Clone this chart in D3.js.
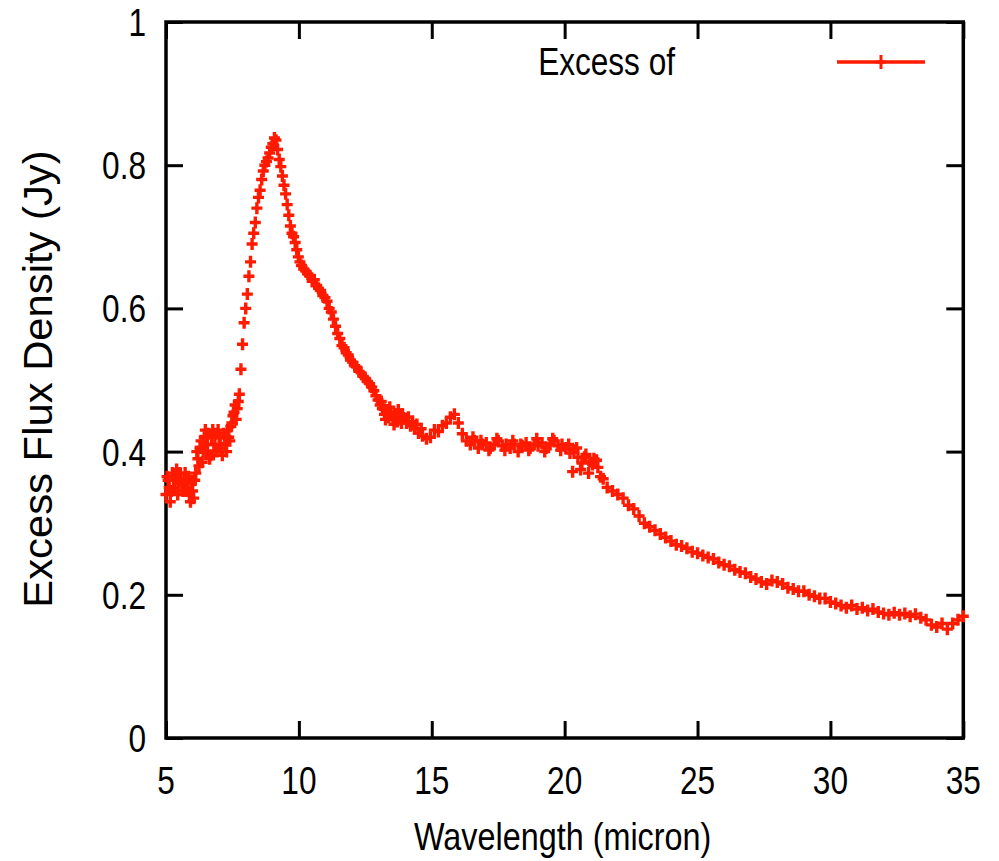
<!DOCTYPE html>
<html>
<head>
<meta charset="utf-8">
<script src="https://cdn.jsdelivr.net/npm/d3@7"></script>
<style>
  html, body { margin: 0; padding: 0; background: #fff; }
  svg { display: block; }
  text { font-family: "Liberation Sans", Arial, Helvetica, sans-serif; fill: #000; }
</style>
</head>
<body>
<svg id="chart" width="999" height="861"></svg>
<script>
// ---- data ----
const xTicks = [5, 10, 15, 20, 25, 30, 35];
const yTicks = [0, 0.2, 0.4, 0.6, 0.8, 1];
const yTickLabels = ["0", "0.2", "0.4", "0.6", "0.8", "1"];
const xLabel = "Wavelength (micron)";
const yLabel = "Excess Flux Density (Jy)";
const seriesName = "Excess of";

const wavelength = [
  5.00, 5.08, 5.16, 5.24, 5.32, 5.40, 5.48, 5.56, 5.64, 5.72, 5.80, 5.88, 5.96, 6.04, 6.12, 6.20,
  6.28, 6.36, 6.44, 6.52, 6.60, 6.68, 6.76, 6.84, 6.92, 7.00, 7.08, 7.16, 7.24, 7.32, 7.40, 7.48,
  7.56, 7.64, 7.68, 7.72,
  5.04, 5.12, 5.20, 5.28, 5.36, 5.44, 5.52, 5.60, 5.68, 5.76, 5.84, 5.92, 6.00, 6.08, 6.16, 6.24,
  6.32, 6.40, 6.48, 6.56, 6.64, 6.72, 6.80, 6.88, 6.96, 7.04, 7.12, 7.20, 7.28, 7.36, 7.44, 7.52, 7.60,
  7.76, 7.82, 7.88, 7.94, 8.00, 8.06, 8.12, 8.18, 8.24, 8.30, 8.36, 8.42, 8.48, 8.54, 8.60, 8.66,
  8.72, 8.78, 8.84, 8.90, 8.96, 9.02, 9.08, 9.14, 9.20, 9.26, 9.32, 9.38, 9.44, 9.50, 9.56, 9.62,
  9.68, 9.74, 9.80, 9.86, 9.92, 9.98, 10.04,
  10.10, 10.18, 10.26, 10.34, 10.42, 10.50, 10.58, 10.66, 10.74, 10.82, 10.90, 10.98, 11.06, 11.14,
  11.22, 11.30, 11.38, 11.46, 11.54, 11.62, 11.70, 11.78, 11.86, 11.94, 12.02, 12.10, 12.18, 12.26,
  12.34, 12.42, 12.50, 12.58, 12.66, 12.74, 12.82, 12.90, 12.98, 13.06, 13.14, 13.22, 13.30, 13.38,
  13.46, 13.54, 13.62, 13.70, 13.78, 13.86, 13.94,
  13.10, 13.26, 13.42, 13.58, 13.74, 13.90, 14.12, 14.28, 14.44, 14.60,
  14.05, 14.20, 14.35, 14.50, 14.65, 14.80, 14.95, 15.10, 15.25, 15.40, 15.55, 15.70, 15.85, 16.00,
  16.15, 16.30, 16.45, 16.60, 16.75, 16.90, 17.05, 17.20, 17.35, 17.50, 17.65, 17.80, 17.95, 18.10,
  18.25, 18.40, 18.55, 18.70, 18.85, 19.00, 19.15, 19.30, 19.45, 19.60, 19.75, 19.90, 20.05, 20.20,
  20.35, 20.50, 20.65, 20.80, 20.95, 21.10, 21.25,
  16.55, 16.85, 17.15, 17.45, 17.75, 18.05, 18.35, 18.65, 18.95, 19.25, 19.55, 19.85, 20.15, 20.45,
  20.75, 21.05,
  20.30, 20.60, 20.90, 21.20, 21.35,
  21.45, 21.60, 21.80, 22.00, 22.20, 22.40, 22.60, 22.80, 23.00, 23.20, 23.40, 23.60, 23.80, 24.00,
  24.20, 24.40, 24.60, 24.80, 25.00, 25.20, 25.40, 25.60, 25.80, 26.00, 26.20, 26.40, 26.60, 26.80,
  27.00, 27.20, 27.40, 27.60, 27.80, 28.00, 28.20, 28.40, 28.60, 28.80, 29.00, 29.20, 29.40, 29.60,
  29.80, 30.00, 30.20, 30.40, 30.60, 30.80, 31.00, 31.20, 31.40, 31.60, 31.80, 32.00, 32.20, 32.40,
  32.60, 32.80, 33.00, 33.20, 33.40, 33.60, 33.80, 34.00, 34.20, 34.40, 34.60, 34.80, 35.00
];

const flux = [
  0.340, 0.360, 0.330, 0.370, 0.350, 0.375, 0.355, 0.360, 0.345, 0.370, 0.350, 0.340, 0.355, 0.335, 0.370, 0.390,
  0.405, 0.385, 0.420, 0.400, 0.425, 0.395, 0.430, 0.410, 0.400, 0.420, 0.405, 0.425, 0.410, 0.430, 0.415, 0.440,
  0.455, 0.445, 0.460, 0.470,
  0.365, 0.350, 0.345, 0.360, 0.365, 0.340, 0.370, 0.355, 0.360, 0.345, 0.365, 0.330, 0.345, 0.360, 0.400, 0.380,
  0.415, 0.400, 0.430, 0.410, 0.390, 0.420, 0.400, 0.425, 0.430, 0.410, 0.395, 0.420, 0.400, 0.420, 0.435, 0.450, 0.465,
  0.480, 0.515, 0.550, 0.580, 0.600, 0.620, 0.645, 0.665, 0.690, 0.705, 0.720, 0.740, 0.755, 0.765, 0.780, 0.792,
  0.800, 0.805, 0.810, 0.817, 0.825, 0.830, 0.838, 0.835, 0.822, 0.808, 0.798, 0.785, 0.772, 0.760, 0.745, 0.730,
  0.715, 0.705, 0.700, 0.692, 0.682, 0.672, 0.665,
  0.660, 0.655, 0.652, 0.648, 0.645, 0.638, 0.640, 0.632, 0.628, 0.625, 0.618, 0.615, 0.610, 0.600,
  0.595, 0.585, 0.575, 0.565, 0.558, 0.548, 0.545, 0.538, 0.535, 0.528, 0.525, 0.520, 0.518, 0.512,
  0.510, 0.505, 0.502, 0.498, 0.495, 0.490, 0.485, 0.478, 0.472, 0.465, 0.460, 0.452, 0.458, 0.448,
  0.455, 0.445, 0.452, 0.442, 0.450, 0.440, 0.447,
  0.470, 0.445, 0.462, 0.438, 0.458, 0.452, 0.448, 0.442, 0.438, 0.432,
  0.440, 0.436, 0.432, 0.426, 0.422, 0.418, 0.420, 0.430, 0.428, 0.436, 0.440, 0.448, 0.452, 0.440,
  0.425, 0.415, 0.410, 0.415, 0.405, 0.410, 0.412, 0.405, 0.410, 0.415, 0.408, 0.410, 0.405, 0.410,
  0.400, 0.408, 0.412, 0.405, 0.410, 0.408, 0.412, 0.405, 0.410, 0.415, 0.408, 0.410, 0.405, 0.398,
  0.402, 0.392, 0.384, 0.396, 0.386, 0.390, 0.378,
  0.420, 0.415, 0.402, 0.418, 0.402, 0.415, 0.410, 0.402, 0.418, 0.400, 0.418, 0.402, 0.410, 0.405,
  0.392, 0.382,
  0.372, 0.375, 0.370, 0.388, 0.365,
  0.362, 0.350, 0.345, 0.340, 0.335, 0.325, 0.320, 0.310, 0.300, 0.295, 0.290, 0.285, 0.280, 0.275,
  0.270, 0.268, 0.265, 0.260, 0.258, 0.255, 0.252, 0.250, 0.245, 0.242, 0.240, 0.235, 0.232, 0.230,
  0.225, 0.222, 0.218, 0.215, 0.220, 0.218, 0.215, 0.210, 0.208, 0.205, 0.205, 0.200, 0.198, 0.195,
  0.195, 0.190, 0.188, 0.185, 0.182, 0.185, 0.180, 0.182, 0.178, 0.180, 0.176, 0.174, 0.172, 0.175,
  0.172, 0.174, 0.170, 0.173, 0.168, 0.165, 0.158, 0.155, 0.160, 0.152, 0.160, 0.165, 0.170
];

// ---- layout ----
const plotL = 166, plotR = 963.3, plotT = 22, plotB = 738;
const red = "#ff1a00";

const svg = d3.select("#chart");
const x = d3.scaleLinear().domain([5, 35]).range([plotL, plotR]);
const y = d3.scaleLinear().domain([0, 1]).range([plotB, plotT]);

// ticks (inward, mirrored)
const tickLen = 17;
const axisStyle = g => {
  g.selectAll(".domain").remove();
  g.selectAll(".tick line").attr("stroke", "#000").attr("stroke-width", 3);
  g.selectAll(".tick text").remove();
};
svg.append("g").attr("transform", `translate(0,${plotB})`)
  .call(d3.axisBottom(x).tickValues(xTicks).tickSize(-tickLen)).call(axisStyle);
svg.append("g").attr("transform", `translate(0,${plotT})`)
  .call(d3.axisTop(x).tickValues(xTicks).tickSize(-tickLen)).call(axisStyle);
svg.append("g").attr("transform", `translate(${plotL},0)`)
  .call(d3.axisLeft(y).tickValues(yTicks).tickSize(-tickLen)).call(axisStyle);
svg.append("g").attr("transform", `translate(${plotR},0)`)
  .call(d3.axisRight(y).tickValues(yTicks).tickSize(-tickLen)).call(axisStyle);

// frame
svg.append("rect")
  .attr("x", plotL).attr("y", plotT)
  .attr("width", plotR - plotL).attr("height", plotB - plotT)
  .attr("fill", "none").attr("stroke", "#000").attr("stroke-width", 3.5);

// text helper
function label(str, tx, ty, anchor, size, sx, rot) {
  return svg.append("text")
    .attr("transform", `translate(${tx},${ty})` + (rot ? ` rotate(${rot})` : "") + ` scale(${sx},1)`)
    .attr("text-anchor", anchor)
    .attr("font-size", size)
    .text(str);
}

const fs = 39, sx = 0.81;
xTicks.forEach(v => label(String(v), x(v), 794, "middle", fs, sx));
yTicks.forEach((v, i) => label(yTickLabels[i], 146, y(v) + 14, "end", fs, sx));
label(xLabel, (plotL + plotR) / 2 - 2, 850, "middle", fs, 0.83);
label(yLabel, 52, 379, "middle", 40, 1.045, -90);

// data markers (plus signs)
const data = wavelength.map((w, i) => ({ w, f: flux[i] }));
const plus = (cx, cy, a, b) => `M${cx - a},${cy}H${cx + a}M${cx},${cy - b}V${cy + b}`;
svg.append("g")
  .selectAll("path")
  .data(data)
  .join("path")
  .attr("d", d => plus(x(d.w), y(d.f), 5.5, 6))
  .attr("stroke", red)
  .attr("stroke-width", 3.4)
  .attr("fill", "none");

// legend
label(seriesName, 675, 75, "end", fs, sx);
const ly = 62;
svg.append("line").attr("x1", 837).attr("x2", 925).attr("y1", ly).attr("y2", ly)
  .attr("stroke", red).attr("stroke-width", 3.5);
svg.append("path").attr("d", plus(881, ly, 5, 7))
  .attr("stroke", red).attr("stroke-width", 3).attr("fill", "none");
</script>
</body>
</html>
